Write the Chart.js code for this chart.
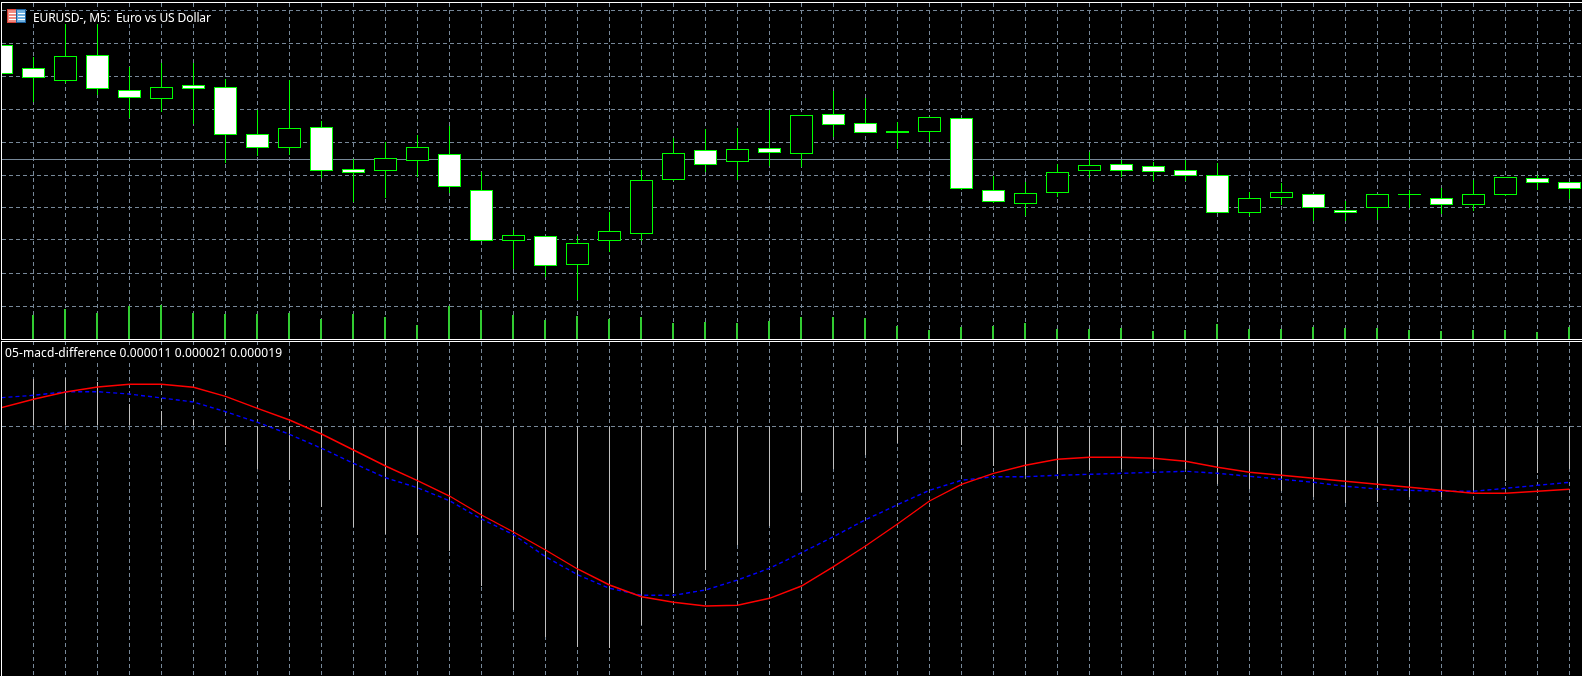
<!DOCTYPE html>
<html>
<head>
<meta charset="utf-8">
<title>EURUSD-, M5</title>
<script src="https://cdn.jsdelivr.net/npm/chart.js@4"></script>
<style>
    html, body { margin: 0; padding: 0; width: 1582px; height: 676px; background: #000; overflow: hidden; }
    .frame { position: absolute; background: #fff; }
    canvas { position: absolute; }
    .label {
        position: absolute;
        background: #000;
        color: #fff;
        font-family: "Noto Sans", sans-serif;
        font-size: 12px;
        white-space: pre;
    }
</style>
</head>
<body>
<div class="frame" style="left:1px;top:2px;width:1581px;height:1px"></div>
<div class="frame" style="left:1px;top:2px;width:1px;height:337px"></div>
<div class="frame" style="left:1px;top:339px;width:1581px;height:1px"></div>
<div class="frame" style="left:1px;top:341px;width:1581px;height:1px"></div>
<div class="frame" style="left:1px;top:341px;width:1px;height:335px"></div>

<canvas id="priceChart" width="1580" height="336" style="left:2px;top:3px;width:1580px;height:336px"></canvas>
<canvas id="macdChart" width="1580" height="334" style="left:2px;top:342px;width:1580px;height:334px"></canvas>

<svg style="position:absolute;left:7px;top:9px" width="19" height="14">
    <rect x="0.5" y="0.5" width="9" height="13" fill="#f08a80" stroke="#d8453a"/>
    <rect x="9.5" y="0.5" width="9" height="13" fill="#6fb0e0" stroke="#1a5f9c"/>
    <path d="M2 4.5h7M2 7.5h7M2 10.5h7" stroke="#fff"/>
    <path d="M11 4.5h7M11 7.5h7M11 10.5h7" stroke="#fff"/>
</svg>
<div class="label" style="left:31px;top:11px;height:13px;line-height:13px;padding:0 2px;letter-spacing:-0.1px">EURUSD-, M5:  Euro vs US Dollar</div>
<div class="label" style="left:3px;top:345px;height:16px;line-height:16px;padding:0 2px;letter-spacing:0.1px">05-macd-difference 0.000011 0.000021 0.000019</div>

<script>
// candles, left to right (chart has no price axis so values are in chart points)
const barIndex = [0,1,2,3,4,5,6,7,8,9,10,11,12,13,14,15,16,17,18,19,20,21,22,23,24,25,26,27,28,29,30,31,32,33,34,35,36,37,38,39,40,41,42,43,44,45,46,47,48,49];
const openPrice = [295,272,259,285,250,241,255,253,206,192,213,171,169,179,186,150,99,104,75,99,106,160,190,178,192,186,226,217,209,208,222,150,136,147,169,176,174,170,165,127,142,146,130,132,145,142,135,145,162,158];
const closePrice = [266,262,284,251,242,253,251,205,192,212,169,167,182,193,153,99,105,74,97,109,160,187,175,191,187,225,215,207,207,223,151,138,147,168,175,169,168,164,127,142,148,132,127,146,146,135,146,163,157,151];
const highPrice = [295,283,326,326,273,277,277,261,230,260,219,181,198,205,214,168,110,104,104,128,170,202,211,212,230,225,249,242,218,223,222,164,158,176,188,180,178,180,177,148,157,146,139,146,150,152,160,163,165,158];
const lowPrice = [266,238,257,245,222,228,216,177,184,185,162,138,142,163,147,99,71,63,40,88,99,159,168,160,174,173,203,207,191,198,150,137,124,143,162,163,159,159,127,124,135,119,119,120,132,126,129,144,150,141];
const tickVolume = [24,24,30,26,33,34,26,25,25,26,20,25,22,14,33,29,24,19,23,20,22,16,17,16,18,22,22,21,13,9,12,13,16,10,10,11,8,9,15,10,10,12,11,11,9,8,9,9,7,12];
const priceLevels = [330,297,264,231,198,165,133,100,67,34];
const bidLevel = 180.5;

// indicator window, zero level is the dashed line
const macdDiff = [40,47,48,44,22,15,6,-19,-43,-54,-81,-101,-108,-109,-125,-160,-184,-211,-221,-222,-199,-167,-144,-119,-100,-66,-43,-29,-17,0,-19,-40,-49,-48,-44,-43,-43,-43,-58,-63,-65,-71,-77,-76,-71,-71,-65,-55,-47,-43];
const redLine = [18.3,26.7,34,39,41.7,41.7,38.7,29.7,17.7,6,-8,-24,-40,-54.7,-70,-89,-106,-124,-143,-159,-170.7,-176.3,-180,-179.3,-172.3,-160,-140.7,-120,-98,-75,-58.3,-47.3,-39.3,-33.3,-31.3,-31.3,-32.3,-35.3,-41.3,-46.3,-49.3,-52.3,-55.3,-58.3,-61.3,-64.3,-67.3,-67.3,-65.3,-63.3];
const blueLine = [28.3,30.7,34.3,34.3,32,28,24,14.3,3.7,-8.3,-22.3,-37.3,-51.7,-61.7,-74.7,-93,-108.7,-130.7,-148.7,-162.3,-169.3,-169.3,-164,-154,-142.3,-126.7,-110.7,-93.7,-78.7,-64.3,-54.3,-50.7,-50.7,-49.3,-48.3,-47.3,-46.3,-45.3,-47.3,-50.3,-53.3,-56.3,-60.3,-63,-64.3,-65.3,-65.3,-62.3,-59.3,-56.3];
const macdLevels = [0];

const GRID = "#778899";
const LIME = "#00ff00";
const pxPerBar = 32;
const xMin = 0.5 / pxPerBar;
const xMax = xMin + 1580 / pxPerBar;

function gridAxis(axisId, min, max, values) {
    return {
        type: "linear",
        axis: axisId,
        offset: false,
        min: min,
        max: max,
        afterBuildTicks: function (scale) {
            scale.ticks = values.map(function (v) { return { value: v }; });
        },
        ticks: { display: false },
        border: { display: false, dash: [4, 3] },
        grid: {
            color: GRID,
            lineWidth: 1,
            offset: false,
            drawTicks: false,
            tickLength: 0
        }
    };
}

function hiddenAxis(axisId, min, max) {
    return { type: "linear", axis: axisId, display: false, offset: false, min: min, max: max };
}

function points(values) {
    return values.map(function (v, i) {
        return { x: barIndex[i], y: v };
    });
}

function barSet(data, thickness, fill, stroke, order, extra) {
    return Object.assign({
        type: "bar",
        data: data,
        grouped: false,
        barThickness: thickness,
        backgroundColor: fill,
        borderColor: stroke,
        borderWidth: stroke ? 1 : 0,
        borderSkipped: false,
        inflateAmount: 0,
        order: order
    }, extra || {});
}

const baseOptions = {
    responsive: false,
    animation: false,
    devicePixelRatio: 1,
    layout: { padding: 0 },
    plugins: { legend: { display: false }, tooltip: { enabled: false } },
    elements: { point: { radius: 0 } }
};

const bodyFill = openPrice.map(function (o, i) {
    return closePrice[i] < o ? "#ffffff" : "#000000";
});

new Chart(document.getElementById("priceChart"), {
    data: {
        datasets: [
            barSet(points(openPrice.map(function (o, i) { return [o, closePrice[i]]; })), 23, bodyFill, LIME, 1),
            barSet(points(highPrice.map(function (h, i) { return [lowPrice[i], h]; })), 1, LIME, null, 2),
            {
                type: "line",
                data: [{ x: xMin, y: bidLevel }, { x: xMax, y: bidLevel }],
                borderColor: GRID,
                borderWidth: 1,
                pointRadius: 0,
                order: 3
            },
            barSet(points(tickVolume), 2, "#32cd32", null, 4, { xAxisID: "xVol", yAxisID: "yVol" })
        ]
    },
    options: Object.assign({}, baseOptions, {
        scales: {
            x: gridAxis("x", xMin, xMax, barIndex),
            y: gridAxis("y", 1, 337, priceLevels),
            // half a pixel to the left so the 2px volume bars sit on whole pixels
            xVol: hiddenAxis("x", xMin + 0.5 / pxPerBar, xMax + 0.5 / pxPerBar),
            yVol: hiddenAxis("y", 0, 336)
        }
    })
});

new Chart(document.getElementById("macdChart"), {
    data: {
        datasets: [
            {
                type: "line",
                data: points(redLine),
                borderColor: "#ff0000",
                borderWidth: 1.4,
                tension: 0,
                pointRadius: 0,
                order: 1
            },
            {
                type: "line",
                data: points(blueLine),
                borderColor: "#0000ff",
                borderWidth: 1.4,
                borderDash: [4, 3],
                tension: 0,
                pointRadius: 0,
                order: 2
            },
            barSet(points(macdDiff), 1, "#c0c0c0", null, 3)
        ]
    },
    options: Object.assign({}, baseOptions, {
        scales: {
            x: gridAxis("x", xMin, xMax, barIndex),
            y: gridAxis("y", -250, 84, macdLevels)
        }
    })
});
</script>
</body>
</html>
